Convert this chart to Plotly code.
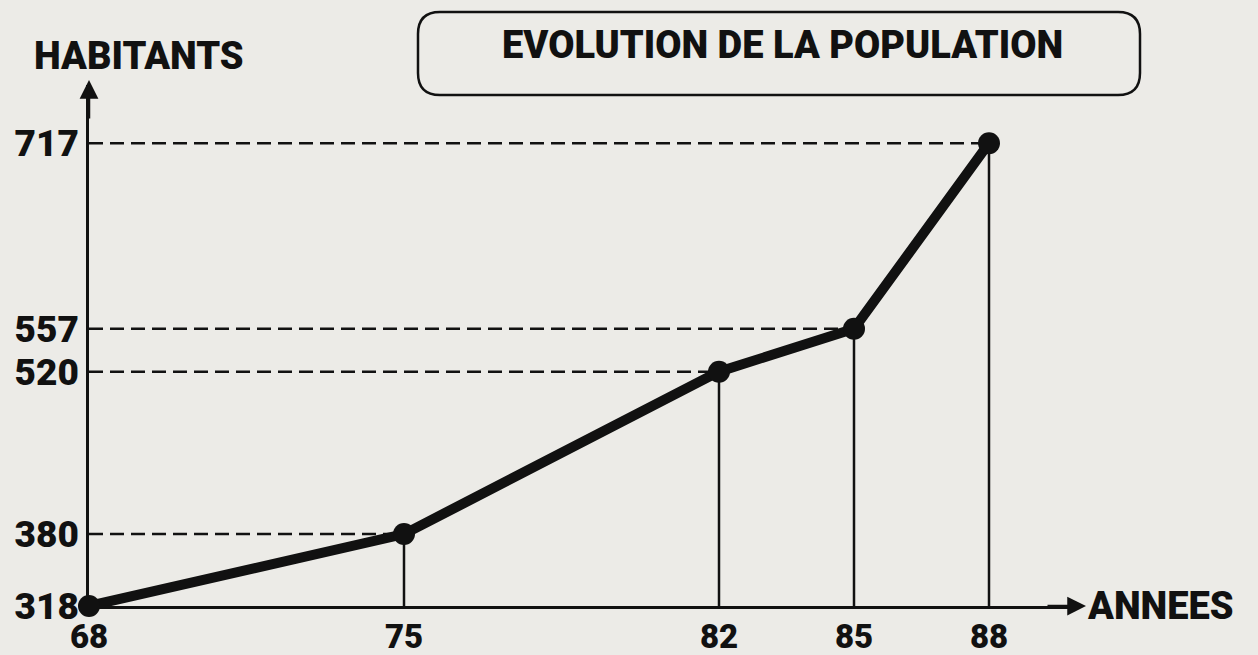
import plotly.graph_objects as go

# Data
years = [68, 75, 82, 85, 88]
year_labels = ["68", "75", "82", "85", "88"]
population = [318, 380, 520, 557, 717]
pop_labels = ["318", "380", "520", "557", "717"]

W, H = 1258, 655
L, R, T, B = 89, 178, 85, 49
pw, ph = W - L - R, H - T - B

def px(x):
    return (x - L) / pw

def py(y):
    return (H - B - y) / ph

BG = "#ecebe7"
INK = "#111111"
FONT = "Roboto"

fig = go.Figure()

# reference lines
for x, y in zip(years, population):
    fig.add_trace(go.Scatter(x=[years[0], x], y=[y, y], mode="lines",
                             line=dict(color=INK, width=2.5, dash="14px,7px"),
                             hoverinfo="skip", showlegend=False))
    fig.add_trace(go.Scatter(x=[x, x], y=[population[0], y], mode="lines",
                             line=dict(color=INK, width=2.5),
                             hoverinfo="skip", showlegend=False))

# main line
fig.add_trace(go.Scatter(x=years, y=population, mode="lines+markers",
                         line=dict(color=INK, width=10),
                         marker=dict(color=INK, size=22),
                         showlegend=False, cliponaxis=False))

fig.update_xaxes(range=[68, 68 + pw / 45.0], tickvals=years, ticktext=year_labels,
                 showgrid=False, zeroline=False, showline=True, linecolor=INK,
                 linewidth=2.5, ticks="", automargin=False,
                 tickfont=dict(family=FONT, size=33, color=INK, weight=900))
fig.update_yaxes(range=[318, 318 + ph / 1.16], tickvals=population, ticktext=pop_labels,
                 showgrid=False, zeroline=False, showline=True, linecolor=INK,
                 linewidth=2.5, ticks="", automargin=False,
                 tickfont=dict(family=FONT, size=37, color=INK, weight=900))

# title box (rounded rectangle)
x0, x1, y0, y1, r = 418, 1140, 12, 95, 22
path = (f"M {px(x0 + r)},{py(y0)} L {px(x1 - r)},{py(y0)} "
        f"Q {px(x1)},{py(y0)} {px(x1)},{py(y0 + r)} "
        f"L {px(x1)},{py(y1 - r)} Q {px(x1)},{py(y1)} {px(x1 - r)},{py(y1)} "
        f"L {px(x0 + r)},{py(y1)} Q {px(x0)},{py(y1)} {px(x0)},{py(y1 - r)} "
        f"L {px(x0)},{py(y0 + r)} Q {px(x0)},{py(y0)} {px(x0 + r)},{py(y0)} Z")
fig.add_shape(type="path", path=path, xref="paper", yref="paper",
              line=dict(color=INK, width=2.5))

fig.add_annotation(text="EVOLUTION DE LA POPULATION", xref="paper", yref="paper",
                   x=px(782), y=py(45), xanchor="center", yanchor="middle",
                   showarrow=False,
                   font=dict(family=FONT, size=38, color=INK, weight=900))

# axis arrows
fig.add_annotation(x=0, y=py(80), xref="paper", yref="paper", ax=0, ay=40,
                   showarrow=True, arrowhead=2, arrowsize=1.5, arrowwidth=2.5,
                   arrowcolor=INK, text="", standoff=0)
fig.add_annotation(x=px(1086), y=0, xref="paper", yref="paper", ax=-40, ay=0,
                   showarrow=True, arrowhead=2, arrowsize=1.5, arrowwidth=2.5,
                   arrowcolor=INK, text="", standoff=0)

fig.add_annotation(text="HABITANTS", xref="paper", yref="paper", x=px(32), y=py(56),
                   xanchor="left", yanchor="middle", showarrow=False,
                   font=dict(family=FONT, size=38, color=INK, weight=900))
fig.add_annotation(text="ANNEES", xref="paper", yref="paper", x=px(1085), y=0,
                   xanchor="left", yanchor="middle", showarrow=False,
                   font=dict(family=FONT, size=38, color=INK, weight=900))

fig.update_layout(width=W, height=H, margin=dict(l=L, r=R, t=T, b=B),
                  paper_bgcolor=BG, plot_bgcolor=BG)

fig.write_html("out.html", config={"displayModeBar": False},
               post_script="document.body.style.margin='0';"
                           "document.body.style.background='" + BG + "';")
